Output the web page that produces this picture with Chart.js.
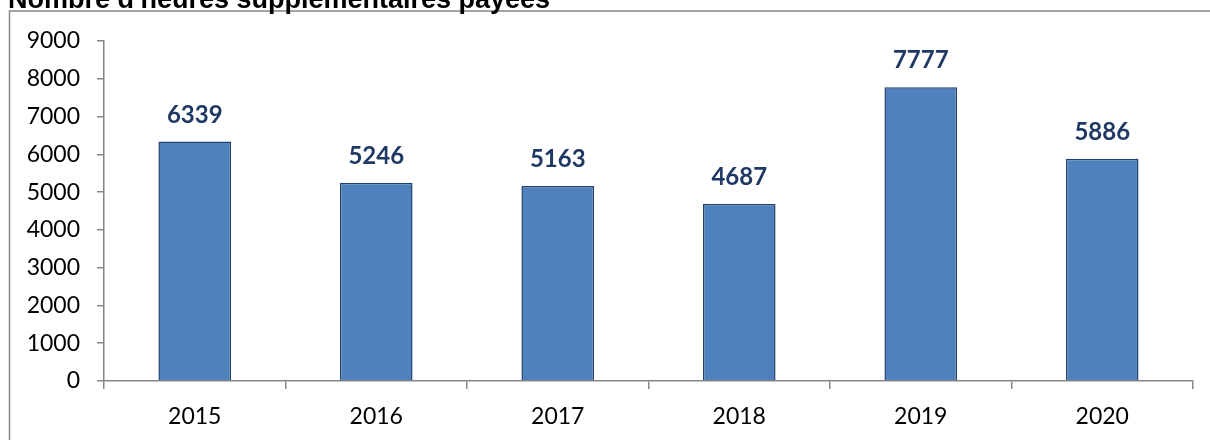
<!DOCTYPE html>
<html>
<head>
<meta charset="utf-8">
<title>Heures supplémentaires payées</title>
<script src="https://cdn.jsdelivr.net/npm/chart.js@4/dist/chart.umd.min.js"></script>
<style>
  html, body { margin: 0; padding: 0; background: #fff; }
  #wrap { width: 1210px; height: 440px; position: relative; overflow: hidden; }
</style>
</head>
<body>
<div id="wrap"><canvas id="heures" width="1210" height="440"></canvas></div>
<script>
const titre = "Nombre d'heures supplémentaires payées";
const annees = ["2015", "2016", "2017", "2018", "2019", "2020"];
const heures = [6339, 5246, 5163, 4687, 7777, 5886];
const graduations = [0, 1000, 2000, 3000, 4000, 5000, 6000, 7000, 8000, 9000];

const gris = "#868686";

// cadre + titre (le titre depasse en haut, comme dans le rapport)
const cadre = {
  id: "cadre",
  beforeDraw(chart) {
    const ctx = chart.ctx;
    ctx.save();
    ctx.strokeStyle = gris;
    ctx.lineWidth = 1.5;
    ctx.beginPath();
    ctx.moveTo(9.5, 440);
    ctx.lineTo(9.5, 11);
    ctx.lineTo(1210, 11);
    ctx.stroke();
    ctx.fillStyle = "#000";
    ctx.font = "bold 27px 'Liberation Sans', Arial, sans-serif";
    ctx.textBaseline = "alphabetic";
    ctx.fillText(titre, 8, 8);
    ctx.restore();
  }
};

// valeurs au-dessus des barres
const etiquettes = {
  id: "etiquettes",
  afterDatasetsDraw(chart) {
    const ctx = chart.ctx;
    const meta = chart.getDatasetMeta(0);
    ctx.save();
    ctx.fillStyle = "#1F3864";
    ctx.font = "bold 24px Lato, sans-serif";
    ctx.textAlign = "center";
    ctx.textBaseline = "alphabetic";
    meta.data.forEach((bar, i) => {
      ctx.fillText(String(chart.data.datasets[0].data[i]), bar.x, bar.y - 19);
    });
    ctx.restore();
  }
};

new Chart(document.getElementById("heures"), {
  type: "bar",
  data: {
    labels: annees,
    datasets: [{
      data: heures,
      backgroundColor: "#4F81BD",
      borderColor: "#21416E",
      borderWidth: 1.5,
      borderSkipped: "bottom",
      barPercentage: 0.4,
      categoryPercentage: 1
    }]
  },
  options: {
    responsive: false,
    animation: false,
    layout: { padding: { left: 0, top: 41, right: 17, bottom: 0 } },
    plugins: {
      legend: { display: false },
      tooltip: { enabled: false },
      title: { display: false }
    },
    scales: {
      x: {
        afterFit(scale) { scale.height = 59; },
        border: { color: gris, width: 1.5 },
        grid: { offset: true, drawOnChartArea: false, color: gris, lineWidth: 1.5, tickLength: 8 },
        ticks: { color: "#000", font: { family: "Lato", size: 23 }, padding: 14 }
      },
      y: {
        min: 0,
        max: 9000,
        afterFit(scale) { scale.width = 104; },
        afterBuildTicks(scale) { scale.ticks = graduations.map(v => ({ value: v })); },
        border: { color: gris, width: 1.5 },
        grid: { drawOnChartArea: false, color: gris, lineWidth: 1.5, tickLength: 7 },
        ticks: {
          color: "#000",
          font: { family: "Lato", size: 23 },
          padding: 17,
          callback: (v) => String(v)
        }
      }
    }
  },
  plugins: [cadre, etiquettes]
});
</script>
</body>
</html>
